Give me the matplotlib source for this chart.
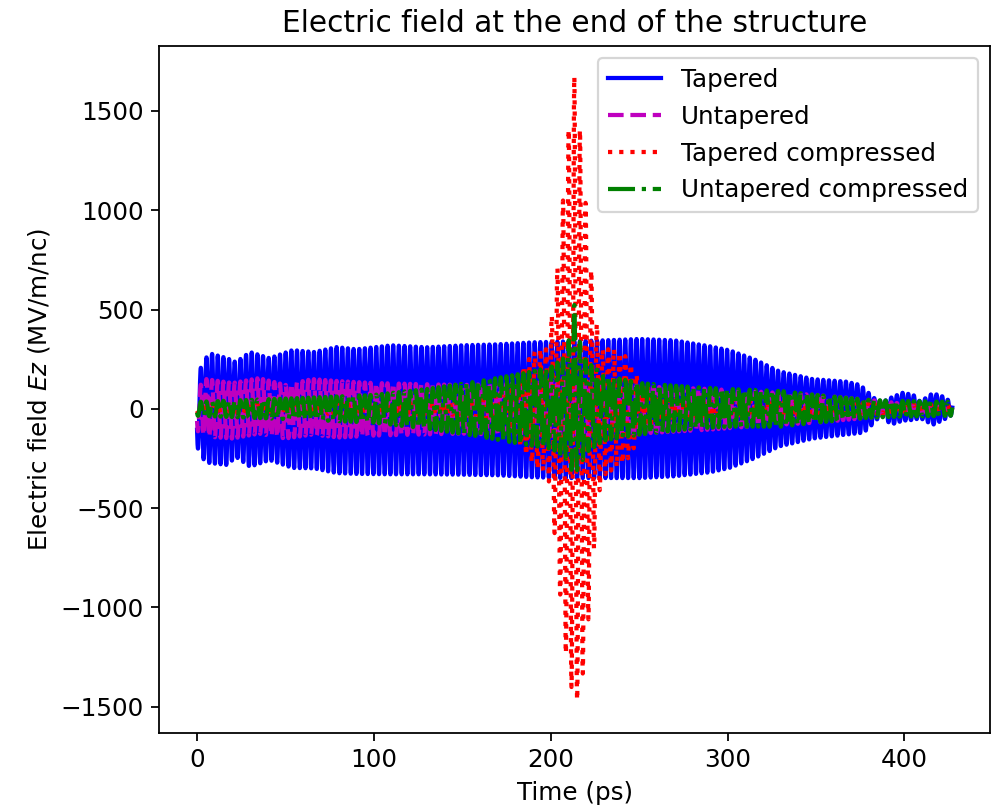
import numpy as np
import matplotlib
matplotlib.use("Agg")
import matplotlib.pyplot as plt

# =====================================================================
# DATA (envelopes, MV/m/nc vs ps)
# =====================================================================

t_end = 427.0
period_ps = 3.2
t_peak = 213.3

# Tapered
tap_t = [0, 3, 7, 17, 22, 30, 41, 54, 66, 79, 90, 110, 130, 150, 170,
         190, 210, 230, 250, 270, 290, 301, 315, 329, 348, 367, 375, 379,
         384, 388, 392, 399, 405, 409, 416, 422, 427]
tap_up = [150, 230, 280, 255, 235, 286, 255, 296, 286, 311, 300, 320, 310,
          320, 325, 335, 340, 345, 352, 345, 315, 295, 250, 190, 150, 137,
          120, 86, 45, 36, 55, 81, 70, 36, 79, 61, 30]
tap_lo = [190, 250, 273, 283, 242, 292, 258, 298, 300, 324, 328, 330, 330,
          332, 335, 345, 349, 349, 349, 340, 320, 298, 250, 190, 150, 130,
          122, 106, 56, 31, 81, 60, 56, 47, 81, 56, 30]

# Untapered
unt_t = [0, 5, 20, 35, 50, 65, 80, 100, 150, 190, 210, 230, 260, 290, 320,
         350, 380, 400, 427]
unt_up = [100, 150, 130, 155, 120, 150, 140, 130, 120, 130, 160, 130, 110,
          100, 85, 70, 45, 25, 15]
unt_lo = [110, 140, 150, 125, 150, 130, 145, 135, 125, 135, 150, 135, 120,
          105, 85, 70, 45, 25, 15]

# Tapered compressed
tc_t = [0, 150, 175, 185, 192, 198, 200, 203.5, 206.5, 209.5, 213.3, 214.5,
        217, 220, 223, 226, 229, 236, 243, 250, 260, 280, 427]
tc_up = [20, 30, 80, 220, 300, 300, 430, 684, 1000, 1354, 1672, 1600,
         1354, 1000, 684, 430, 300, 300, 260, 150, 60, 40, 20]
tc_lo = [20, 30, 80, 220, 300, 320, 420, 760, 1050, 1320, 1460, 1474,
         1420, 1181, 900, 500, 340, 300, 260, 150, 60, 40, 20]

# Untapered compressed
uc_t = [0, 30, 60, 100, 130, 160, 185, 200, 208, 211, 213.3, 216, 220,
        230, 250, 280, 300, 330, 350, 380, 395, 427]
uc_up = [35, 45, 55, 70, 100, 140, 180, 210, 260, 380, 523, 350, 240, 170,
         130, 110, 100, 90, 70, 45, 40, 35]
uc_lo = [35, 45, 55, 70, 100, 140, 180, 200, 240, 300, 323, 300, 220, 160,
         130, 100, 90, 90, 70, 45, 40, 35]

# =====================================================================
# BUILD SIGNALS
# =====================================================================

t = np.linspace(0, t_end, 24000)
carrier = np.cos(2 * np.pi * (t - t_peak) / period_ps)


def build_signal(knots, upper, lower):
    env = np.where(
        carrier >= 0,
        np.interp(t, knots, upper),
        np.interp(t, knots, lower)
    )
    return carrier * env


ez_tap = build_signal(tap_t, tap_up, tap_lo)
ez_unt = build_signal(unt_t, unt_up, unt_lo)
ez_tc = build_signal(tc_t, tc_up, tc_lo)
ez_uc = build_signal(uc_t, uc_up, uc_lo)

# =====================================================================
# PLOT
# =====================================================================

plt.rcParams["font.size"] = 11.1
plt.rcParams["lines.linewidth"] = 1.9

fig = plt.figure(figsize=(6.25, 5.06875), dpi=160)
ax = fig.add_axes([0.1593, 0.0966, 0.8307, 0.8471])

ax.plot(t, ez_tap, "b-", label="Tapered")
ax.plot(t, ez_unt, "m--", label="Untapered")
ax.plot(t, ez_tc, "r:", label="Tapered compressed")
ax.plot(t, ez_uc, "g-.", label="Untapered compressed")

ax.set_xlim(-21.35, 448.35)
ax.set_ylim(-1630.9, 1828.8)

ax.set_title("Electric field at the end of the structure")
ax.set_xlabel("Time (ps)")
ax.set_ylabel("Electric field $Ez$ (MV/m/nc)")
ax.legend(
    loc="upper right",
    handlelength=2.15,
    labelspacing=0.52
)

fig.savefig("out.png", dpi=160)
